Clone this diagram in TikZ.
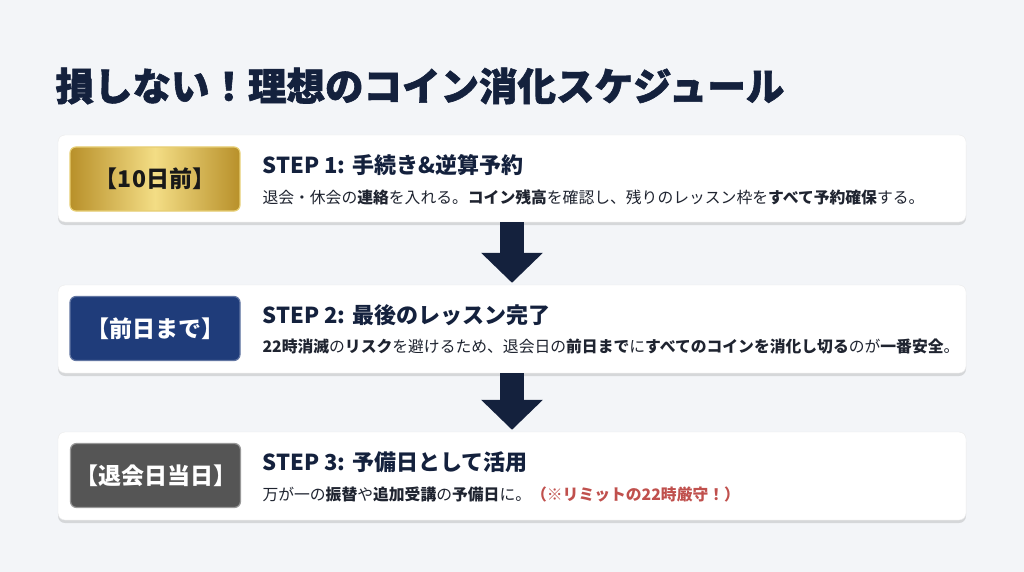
\documentclass[tikz,border=0pt]{standalone}
\usepackage{fontspec}
\setmainfont{Noto Sans CJK JP}
\newfontfamily\titlefont[BoldFeatures={FakeBold=1.6}]{Noto Sans CJK JP}
\usetikzlibrary{arrows.meta,shadows}

\definecolor{bgcol}{HTML}{F3F5F8}
\definecolor{navy}{HTML}{14213D}
\definecolor{badgenavy}{HTML}{1F3C7A}
\definecolor{badgegray}{HTML}{555555}
\definecolor{golddark}{HTML}{B8902A}
\definecolor{goldlight}{HTML}{F3DD85}
\definecolor{desccol}{HTML}{1F2430}
\definecolor{warnred}{HTML}{C0504D}

\tikzset{
  card/.style={draw=black!8, fill=white, rounded corners=7pt, minimum width=908pt,
    drop shadow={shadow xshift=0pt, shadow yshift=-3pt, opacity=0.12, fill=black}},
  badge/.style={rounded corners=6pt, minimum width=170pt, minimum height=64pt, inner xsep=0pt,
    font=\fontsize{23}{27}\selectfont\bfseries, text=white, line width=1.2pt},
  steptitle/.style={anchor=west, text=navy, font=\fontsize{22}{26}\selectfont\bfseries},
  stepdesc/.style={anchor=west, text=desccol, font=\fontsize{15.8}{18}\selectfont},
  flowarrow/.style={draw=navy, line width=24pt, -{Triangle[width=60pt,length=30pt]}, shorten >=2pt}
}

\begin{document}
\begin{tikzpicture}[x=1pt,y=-1pt]
	\fill[bgcol] (0,0) rectangle (1024,572);%Hintergrund
	\useasboundingbox (0,0) rectangle (1024,572);

	\node[anchor=west, text=navy, font=\titlefont\fontsize{38.5}{44}\selectfont\bfseries] (title) at (52,86) {損しない！理想のコイン消化スケジュール};

	\node[card, minimum height=87pt] (card1) at (512,178.5) {};
	\node[card, minimum height=88pt] (card2) at (512,329) {};
	\node[card, minimum height=88pt] (card3) at (512,476) {};

	\draw[flowarrow] (card1.south) -- (card2.north);
	\draw[flowarrow] (card2.south) -- (card3.north);

	%STEP 1
	\node[badge, draw=goldlight!80!golddark, left color=golddark, right color=golddark, middle color=goldlight, text=black!90] (badge1) at (155,179) {【10日前】};
	\node[steptitle] (title1) at (259,165) {STEP 1: 手続き\&逆算予約};
	\node[stepdesc] (desc1) at (259,197) {退会・休会の\textbf{連絡}を入れる。\textbf{コイン残高}を確認し、残りのレッスン枠を\textbf{すべて予約確保}する。};

	%STEP 2
	\node[badge, fill=badgenavy, draw=badgenavy!70!white] (badge2) at (155,328.5) {【前日まで】};
	\node[steptitle] (title2) at (259,315) {STEP 2: 最後のレッスン完了};
	\node[stepdesc] (desc2) at (259,347) {\textbf{22時消滅}の\textbf{リスク}を避けるため、退会日の\textbf{前日まで}に\textbf{すべてのコインを消化し切る}のが\textbf{一番安全}。};

	%STEP 3
	\node[badge, fill=badgegray, draw=badgegray!60!white] (badge3) at (155.5,475.5) {【退会日当日】};
	\node[steptitle] (title3) at (259,462) {STEP 3: 予備日として活用};
	\node[stepdesc] (desc3) at (259,494) {万が一の\textbf{振替}や\textbf{追加受講}の\textbf{予備日}に。\textcolor{warnred}{\textbf{（※リミットの22時厳守！）}}};
\end{tikzpicture}
\end{document}
